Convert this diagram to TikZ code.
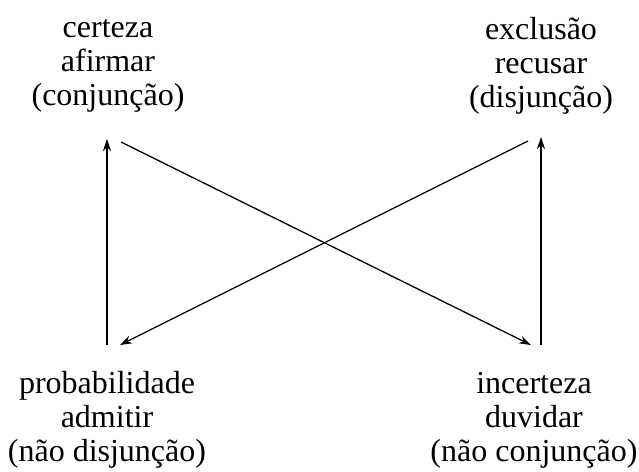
\documentclass[tikz,border=0pt]{standalone}
\usepackage{fontspec}
\setmainfont{Liberation Serif}
\usetikzlibrary{arrows.meta}
\begin{document}
\begin{tikzpicture}[x=1pt,y=-1pt,
  lbl/.style={align=center,inner sep=0pt,font=\fontsize{32}{34}\selectfont},
  arr/.style={line width=1.3pt,-{Stealth[length=12pt,width=8pt]}}]
\useasboundingbox (0,0) rectangle (639,471);
\node[lbl] (cert) at (108,66) {certeza\\afirmar\\(conjunção)};
\node[lbl] (excl) at (541,66) {exclusão\\recusar\\(disjunção)};
\node[lbl] (prob) at (107,420) {probabilidade\\admitir\\(não disjunção)};
\node[lbl] (inc) at (534,420) {incerteza\\duvidar\\(não conjunção)};
\coordinate (lb) at (107,345);
\coordinate (lt) at (107,139);
\coordinate (rb) at (541,345);
\coordinate (rt) at (541,137);
\coordinate (a1) at (121,142);
\coordinate (a2) at (531,345);
\coordinate (b1) at (528,141);
\coordinate (b2) at (120,345);
\draw[arr] (lb) -- (lt);
\draw[arr] (rb) -- (rt);
\draw[arr] (a1) -- (a2);
\draw[arr] (b1) -- (b2);
\end{tikzpicture}
\end{document}
